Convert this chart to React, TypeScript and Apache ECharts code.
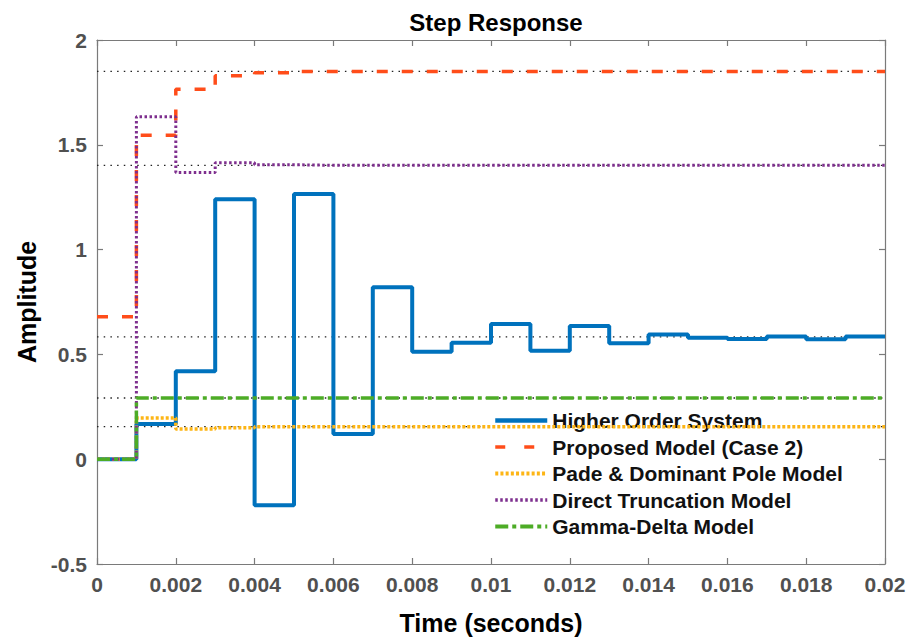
import React, { useEffect, useRef } from "react";
import * as echarts from "echarts";

// Sample instants of the discrete step responses (Ts = 0.001 s)
const TIME = [
  0, 0.001, 0.002, 0.003, 0.004, 0.005, 0.006, 0.007, 0.008, 0.009, 0.01,
  0.011, 0.012, 0.013, 0.014, 0.015, 0.016, 0.017, 0.018, 0.019, 0.02,
];

const HIGHER_ORDER = [
  0, 0.168, 0.42, 1.24, -0.22, 1.265, 0.12, 0.82, 0.513, 0.555, 0.645,
  0.518, 0.635, 0.553, 0.595, 0.58, 0.573, 0.585, 0.572, 0.585, 0.585,
];
const PROPOSED = [
  0.68, 1.545, 1.765, 1.83, 1.844, 1.85, 1.85, 1.85, 1.85, 1.85, 1.85,
  1.85, 1.85, 1.85, 1.85, 1.85, 1.85, 1.85, 1.85, 1.85, 1.85,
];
const PADE = [
  0, 0.197, 0.144, 0.15, 0.155, 0.155, 0.155, 0.155, 0.155, 0.155, 0.155,
  0.155, 0.155, 0.155, 0.155, 0.155, 0.155, 0.155, 0.155, 0.155, 0.155,
];
const TRUNCATION = [
  0, 1.634, 1.368, 1.414, 1.405, 1.402, 1.402, 1.402, 1.402, 1.402, 1.402,
  1.402, 1.402, 1.402, 1.402, 1.402, 1.402, 1.402, 1.402, 1.402, 1.402,
];
const GAMMA_DELTA = [
  0, 0.292, 0.292, 0.292, 0.292, 0.292, 0.292, 0.292, 0.292, 0.292, 0.292,
  0.292, 0.292, 0.292, 0.292, 0.292, 0.292, 0.292, 0.292, 0.292, 0.292,
];

// Steady-state values marked with dotted guide lines
const STEADY_STATES = [1.85, 1.402, 0.584, 0.292, 0.155];

const SERIES_NAMES = [
  "Higher Order System",
  "Proposed Model (Case 2)",
  "Pade & Dominant Pole Model",
  "Direct Truncation Model",
  "Gamma-Delta Model",
];

const X_TICK_LABELS = [
  "0", "0.002", "0.004", "0.006", "0.008", "0.01",
  "0.012", "0.014", "0.016", "0.018", "0.02",
];
const Y_TICK_LABELS = ["-0.5", "0", "0.5", "1", "1.5", "2"];

const FONT = "'Liberation Sans', Arial, Helvetica, sans-serif";
const AXIS_GRAY = "#7a7a7a";
const LABEL_GRAY = "#505050";

const pairs = (vals: number[]) => TIME.map((t, i) => [t, vals[i]]);

export default function App() {
  const ref = useRef<HTMLDivElement>(null);

  useEffect(() => {
    if (!ref.current) return;
    const chart = echarts.init(ref.current, null, { renderer: "svg" });

    const styles = [
      { color: "#0072BD", width: 4, type: "solid" as any },
      { color: "#FF4D1A", width: 3.5, type: [11, 14] as any },
      { color: "#FDB515", width: 3.5, type: [3, 2] as any },
      { color: "#7E2F8E", width: 3, type: [2.5, 2.5] as any },
      { color: "#4DAC26", width: 3.5, type: [13, 4, 4, 4] as any },
    ];
    const legendStyles = [
      { color: "#0072BD", width: 4.5, type: "solid" as any },
      { color: "#FF4D1A", width: 3.5, type: [10, 19] as any },
      { color: "#FDB515", width: 4, type: [3, 2.2] as any },
      { color: "#7E2F8E", width: 3.5, type: [2.5, 2.5] as any },
      { color: "#4DAC26", width: 4, type: [13, 4, 4, 4] as any },
    ];
    const values = [HIGHER_ORDER, PROPOSED, PADE, TRUNCATION, GAMMA_DELTA];

    const guideSeries = STEADY_STATES.map((v, i) => ({
      name: "ss" + i,
      type: "line",
      data: [
        [TIME[0], v],
        [TIME[TIME.length - 1], v],
      ],
      symbol: "none",
      silent: true,
      z: 1,
      lineStyle: { color: "#222", width: 1.3, type: [1.5, 5.2] },
    }));

    const responseSeries = values.map((vals, i) => ({
      name: SERIES_NAMES[i],
      type: "line",
      step: "end",
      data: pairs(vals),
      symbol: "none",
      z: 2 + i,
      color: styles[i].color,
      lineStyle: styles[i],
    }));

    const xLabel = (v: number) => {
      const idx = Math.round(v / 0.002);
      return X_TICK_LABELS[idx] ?? "";
    };
    const yLabel = (v: number) => {
      const idx = Math.round((v + 0.5) / 0.5);
      return Y_TICK_LABELS[idx] ?? "";
    };

    const axisCommon = {
      axisLine: { show: true, onZero: false, lineStyle: { color: AXIS_GRAY, width: 1.2 } },
      axisTick: { show: true, inside: true, length: 6, lineStyle: { color: AXIS_GRAY, width: 1.2 } },
      splitLine: { show: false },
    };

    chart.setOption({
      animation: false,
      backgroundColor: "#fff",
      title: {
        text: "Step Response",
        left: 491,
        textAlign: "center",
        top: 5,
        textStyle: { fontFamily: FONT, fontWeight: "bold", fontSize: 24, color: "#000" },
      },
      grid: { left: 97, top: 40, right: 24, bottom: 79, containLabel: false },
      legend: {
        data: SERIES_NAMES.map((name, i) => ({ name, lineStyle: legendStyles[i] })),
        orient: "vertical",
        left: 485,
        top: 404,
        backgroundColor: "#fff",
        padding: [6, 22, 6, 8],
        itemWidth: 52,
        itemHeight: 14,
        itemGap: 5.5,
        itemStyle: { opacity: 0 },
        textStyle: { fontFamily: FONT, fontWeight: "bold", fontSize: 21, color: "#111" },
      },
      xAxis: [
        {
          type: "value",
          min: 0,
          max: 0.02,
          interval: 0.002,
          name: "Time (seconds)",
          nameLocation: "middle",
          nameGap: 46,
          nameTextStyle: { fontFamily: FONT, fontWeight: "bold", fontSize: 25, color: "#000" },
          axisLabel: {
            formatter: xLabel,
            margin: 10,
            fontFamily: FONT,
            fontWeight: "bold",
            fontSize: 21,
            color: LABEL_GRAY,
          },
          ...axisCommon,
        },
        {
          type: "value",
          position: "top",
          min: 0,
          max: 0.02,
          interval: 0.002,
          axisLabel: { show: false },
          ...axisCommon,
        },
      ],
      yAxis: [
        {
          type: "value",
          min: -0.5,
          max: 2,
          interval: 0.5,
          name: "Amplitude",
          nameLocation: "middle",
          nameGap: 56,
          nameTextStyle: { fontFamily: FONT, fontWeight: "bold", fontSize: 25, color: "#000" },
          axisLabel: {
            formatter: yLabel,
            margin: 10,
            fontFamily: FONT,
            fontWeight: "bold",
            fontSize: 21,
            color: LABEL_GRAY,
          },
          ...axisCommon,
        },
        {
          type: "value",
          position: "right",
          min: -0.5,
          max: 2,
          interval: 0.5,
          axisLabel: { show: false },
          ...axisCommon,
        },
      ],
      series: [...guideSeries, ...responseSeries],
    });

    return () => chart.dispose();
  }, []);

  return <div ref={ref} style={{ width: 909, height: 643, position: "absolute", left: 0, top: 0 }} />;
}
